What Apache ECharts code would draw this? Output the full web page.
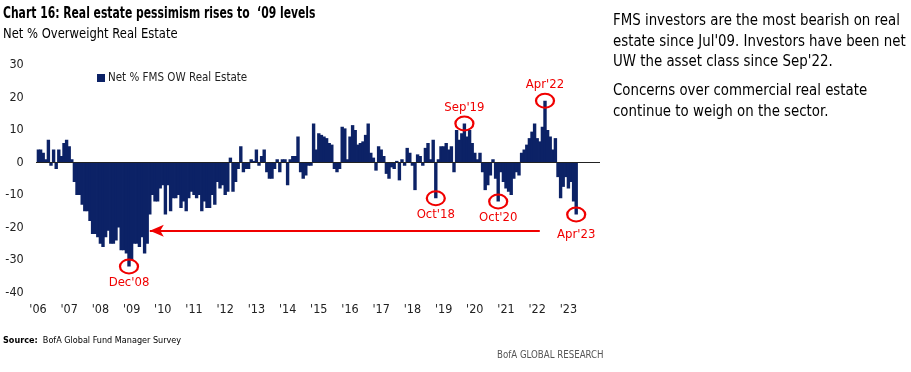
<!DOCTYPE html>
<html><head><meta charset="utf-8">
<script src="https://cdn.jsdelivr.net/npm/echarts@6/dist/echarts.min.js"></script>
<style>html,body{margin:0;padding:0;background:#fff}#c{width:911px;height:372px}</style>
</head><body><div id="c"></div>
<script>
// ---- data (monthly, Net % FMS OW Real Estate) ----
const tickLabels = ["'06","'07","'08","'09","'10","'11","'12","'13","'14","'15","'16","'17","'18","'19","'20","'21","'22","'23"];
const years = [2006,2007,2008,2009,2010,2011,2012,2013,2014,2015,2016,2017,2018,2019,2020,2021,2022,2023];
const v2006 = [4, 4, 3, 1, 7, -1, 4, -2, 4, 2, 6, 7];
const v2007 = [5, 1, -6, -10, -10, -13, -15, -15, -18, -22, -22, -23];
const v2008 = [-25, -26, -23, -21, -25, -25, -24, -20, -27, -27, -28, -32];
const v2009 = [-30, -25, -25, -26, -23, -28, -25, -16, -10, -12, -12, -8];
const v2010 = [-7, -16, -7, -15, -11, -11, -10, -14, -12, -15, -11, -9];
const v2011 = [-10, -11, -10, -15, -12, -14, -14, -10, -13, -6, -8, -7];
const v2012 = [-10, -9, 1.5, -9, -6, -2, 5, -3, -2, -2, 1, 0.5];
const v2013 = [4, -1, 2, 4, -3, -5, -5, -2, 1, -3, 1, 1];
const v2014 = [-7, 1, 2, 2, 8, -3, -5, -4, -1, -1, 12, 4];
const v2015 = [9, 8.5, 8, 7.5, 6, 5.5, -2, -3, -2, 11, 10.5, 1];
const v2016 = [8, 11.5, 10, 5.5, 6, 6.5, 8.5, 12, 3, 1.5, -2.5, 5];
const v2017 = [4, 2, -3.5, -5, -1.5, -2, 0.5, -5.5, 1, -1, 4.5, 3];
const v2018 = [-1, -8.5, 2.5, 2, -1, 4.5, 6, 1, 7, -11, 1, 5];
const v2019 = [5, 6, 4, 5, -3, 10, 7, 9, 12, 8, 10, 6];
const v2020 = [3, 1, 3, -3, -8.5, -7, -4, 1, -5, -12, -3, -6];
const v2021 = [-8, -9, -10, -5, -3, -4, 3, 4, 5.5, 7.5, 9.5, 12];
const v2022 = [7.5, 6.5, 11, 19, 10, 8, 4, 7.5, -4.5, -11, -7.5, -4.5];
const v2023 = [-8, -6, -12, -16];
const seriesName = 'Net % FMS OW Real Estate';

const annotations = [
  {cat: '2008-12', text: "Dec'08", below: true},
  {cat: '2018-10', text: "Oct'18", below: true},
  {cat: '2019-09', text: "Sep'19", below: false},
  {cat: '2020-10', text: "Oct'20", below: true},
  {cat: '2022-04', text: "Apr'22", below: false},
  {cat: '2023-04', text: "Apr'23", below: true}
];
const arrowLevel = -21;
const arrowFrom = '2009-08';
const arrowTo = '2022-02';

// ---- build ----
const values = [].concat(v2006,v2007,v2008,v2009,v2010,v2011,v2012,v2013,v2014,v2015,v2016,v2017,v2018,v2019,v2020,v2021,v2022,v2023);
const categories = [];
years.forEach(y => { for (let m = 1; m <= 12; m++) categories.push(y + '-' + (m < 10 ? '0' + m : m)); });
const data = categories.map((c, i) => i < values.length ? values[i] : null);

const NAVY = '#0c2266';
const RED = '#f00000';
const F = "'Liberation Sans Narrow','DejaVu Sans Condensed',sans-serif";

const markPts = annotations.map(a => {
  const v = values[categories.indexOf(a.cat)];
  return {
    coord: [a.cat, v],
    label: {show: true, formatter: a.text, position: 'inside',
            offset: [0, a.below ? (a.text === "Apr'23" ? 20 : 16) : -16],
            color: RED, fontSize: 13, fontFamily: F}
  };
});

const chart = echarts.init(document.getElementById('c'), null, {renderer: 'canvas'});
chart.setOption({
  animation: false,
  backgroundColor: '#fff',
  graphic: [
    {type: 'text', left: 3, top: 7, scaleX: 0.8, style: {text: 'Chart 16: Real estate pessimism rises to  \u201809 levels', font: "bold 15px " + F, fill: '#000'}},
    {type: 'text', left: 3, top: 27, scaleX: 0.92, style: {text: 'Net % Overweight Real Estate', font: "14px " + F, fill: '#000'}},
    {type: 'text', left: 613, top: 11, scaleX: 0.99, style: {text: "FMS investors are the most bearish on real\nestate since Jul'09. Investors have been net\nUW the asset class since Sep'22.", font: "15px " + F, fill: '#000', lineHeight: 20.5}},
    {type: 'text', left: 613, top: 81, scaleX: 0.99, style: {text: "Concerns over commercial real estate\ncontinue to weigh on the sector.", font: "15px " + F, fill: '#000', lineHeight: 20.5}},
    {type: 'text', left: 3, top: 336, style: {rich: {b: {font: "bold 9px " + F, fill: '#000'}, n: {font: "9px " + F, fill: '#000'}}, text: '{b|Source:}{n|  BofA Global Fund Manager Survey}'}},
    {type: 'text', left: 497, top: 350, scaleX: 0.96, style: {text: 'BofA GLOBAL RESEARCH', font: "10px " + F, fill: '#555'}}
  ],
  legend: {
    data: [seriesName], left: 92, top: 67, icon: 'rect', itemWidth: 8, itemHeight: 8, itemGap: 4,
    textStyle: {fontFamily: F, fontSize: 11.5, color: '#222', padding: [0, 0, 0, -2]}
  },
  grid: {left: 36.7, right: 312.7, top: 65, bottom: 79.5, containLabel: false},
  xAxis: {
    type: 'category', data: categories, boundaryGap: true,
    axisLine: {show: false}, axisTick: {show: false}, splitLine: {show: false},
    axisLabel: {
      interval: (idx) => idx % 12 === 0,
      formatter: (val, idx) => tickLabels[Math.floor(idx / 12)],
      fontFamily: F, fontSize: 12.5, color: '#222', margin: 11
    }
  },
  yAxis: {
    type: 'value', min: -40, max: 30, interval: 10,
    axisLine: {show: false}, axisTick: {show: false}, splitLine: {show: false},
    axisLabel: {fontFamily: F, fontSize: 12.5, color: '#222', margin: 13}
  },
  series: [{
    name: seriesName, type: 'bar', data: data, barGap: '-100%', barWidth: 3.4,
    itemStyle: {color: NAVY, borderWidth: 0},
    markLine: {
      silent: true, animation: false,
      data: [
        [{yAxis: 0, x: 36, symbol: 'none'}, {yAxis: 0, x: 600, symbol: 'none'}],
        [{coord: [arrowFrom, arrowLevel], symbol: 'arrow', symbolSize: [9, 14]}, {coord: [arrowTo, arrowLevel], symbol: 'none'}]
      ],
      lineStyle: {type: 'solid'},
      label: {show: false},
      emphasis: {disabled: true}
    },
    markPoint: {
      silent: true, animation: false,
      symbol: 'circle', symbolSize: [18, 14],
      itemStyle: {color: 'rgba(0,0,0,0)', borderColor: RED, borderWidth: 2},
      data: markPts
    }
  }]
});
const opt = chart.getOption();
opt.series[0].markLine.data[0][0].lineStyle = {color: '#222', width: 1, type: 'solid'};
opt.series[0].markLine.data[1][0].lineStyle = {color: RED, width: 2, type: 'solid'};
chart.setOption(opt);
</script></body></html>
